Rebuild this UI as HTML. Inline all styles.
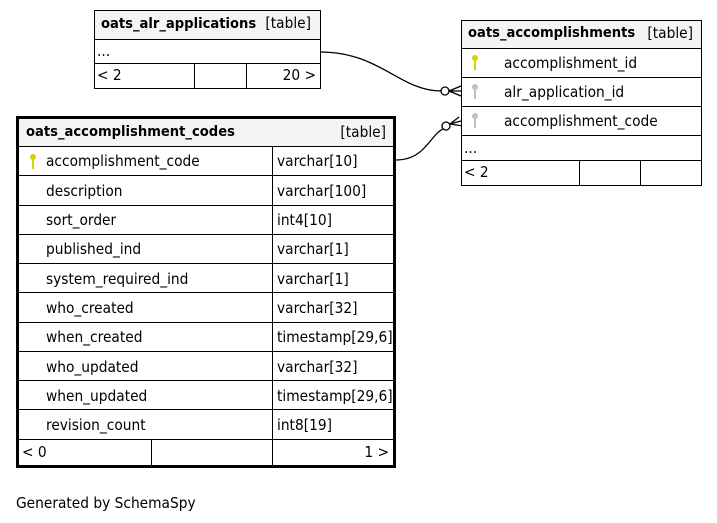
<!DOCTYPE html>
<html><head><meta charset="utf-8"><style>
html,body{margin:0;padding:0;background:#fff;width:717px;height:523px;overflow:hidden}
svg text{font-family:"DejaVu Sans Condensed","DejaVu Sans","Liberation Sans",sans-serif;font-size:15.3px;fill:#000}
.b{font-weight:bold;font-size:14.6px}
</style></head><body>
<svg width="717" height="523" viewBox="0 0 717 523" xmlns="http://www.w3.org/2000/svg">
<defs>
<g id="key"><circle cx="0" cy="-3" r="3"/><rect x="-1" y="-1" width="2" height="10"/></g>
</defs>
<path d="M320,52 C380,52 400,91 441,91" fill="none" stroke="#000" stroke-width="1.3"/>
<circle cx="445" cy="91" r="4" fill="#fff" stroke="#000" stroke-width="1.3"/>
<path d="M449,91 L461,86 M449,91 L461,91 M449,91 L461,96" stroke="#000" stroke-width="1.3" fill="none"/>
<path d="M396,160 C425,160 430,135 443,129" fill="none" stroke="#000" stroke-width="1.3"/>
<circle cx="446" cy="126" r="4" fill="#fff" stroke="#000" stroke-width="1.3"/>
<path d="M450,124 L459,117 M450,124 L461,121 M450,124 L463,126" stroke="#000" stroke-width="1.3" fill="none"/>

<rect x="94.5" y="10.5" width="226" height="78" fill="#fff" stroke="#000"/>
<rect x="95" y="11" width="225" height="28" fill="#f4f4f4"/>
<line x1="94" y1="39.5" x2="320" y2="39.5" stroke="#000"/>
<line x1="94" y1="63.5" x2="320" y2="63.5" stroke="#000"/>
<line x1="194.5" y1="63" x2="194.5" y2="88" stroke="#000"/>
<line x1="246.5" y1="63" x2="246.5" y2="88" stroke="#000"/>
<text x="101" y="28" class="b">oats_alr_applications</text>
<text x="311" y="28" text-anchor="end">[table]</text>
<text x="97" y="56">...</text>
<text x="97" y="80">&lt; 2</text>
<text x="316" y="80" text-anchor="end">20 &gt;</text>

<rect x="461.5" y="20.5" width="240" height="165" fill="#fff" stroke="#000"/>
<rect x="462" y="21" width="239" height="27" fill="#f4f4f4"/>
<line x1="461" y1="48.5" x2="701" y2="48.5" stroke="#000"/>
<line x1="461" y1="77.5" x2="701" y2="77.5" stroke="#000"/>
<line x1="461" y1="106.5" x2="701" y2="106.5" stroke="#000"/>
<line x1="461" y1="135.5" x2="701" y2="135.5" stroke="#000"/>
<line x1="461" y1="160.5" x2="701" y2="160.5" stroke="#000"/>
<line x1="579.5" y1="160" x2="579.5" y2="185" stroke="#000"/>
<line x1="640.5" y1="160" x2="640.5" y2="185" stroke="#000"/>
<text x="468" y="37" class="b">oats_accomplishments</text>
<text x="693" y="38" text-anchor="end">[table]</text>
<use href="#key" x="475" y="61" fill="#d4d400"/>
<text x="504" y="68">accomplishment_id</text>
<use href="#key" x="475" y="90" fill="#c0c0c0"/>
<text x="504" y="97">alr_application_id</text>
<use href="#key" x="475" y="119" fill="#c0c0c0"/>
<text x="504" y="126">accomplishment_code</text>
<text x="464" y="153">...</text>
<text x="464" y="177">&lt; 2</text>

<rect x="17.5" y="117.5" width="377" height="349" fill="#fff" stroke="#000" stroke-width="3"/>
<rect x="19" y="119" width="374" height="27" fill="#f4f4f4"/>
<g stroke="#000">
<line x1="19" y1="146.5" x2="393" y2="146.5"/>
<line x1="19" y1="175.5" x2="393" y2="175.5"/>
<line x1="19" y1="205.5" x2="393" y2="205.5"/>
<line x1="19" y1="234.5" x2="393" y2="234.5"/>
<line x1="19" y1="263.5" x2="393" y2="263.5"/>
<line x1="19" y1="292.5" x2="393" y2="292.5"/>
<line x1="19" y1="322.5" x2="393" y2="322.5"/>
<line x1="19" y1="351.5" x2="393" y2="351.5"/>
<line x1="19" y1="380.5" x2="393" y2="380.5"/>
<line x1="19" y1="409.5" x2="393" y2="409.5"/>
<line x1="19" y1="439.5" x2="393" y2="439.5"/>
<line x1="272.5" y1="146" x2="272.5" y2="465"/>
<line x1="151.5" y1="439" x2="151.5" y2="465"/>
</g>
<text x="26" y="136" class="b">oats_accomplishment_codes</text>
<text x="386" y="137" text-anchor="end">[table]</text>
<use href="#key" x="33" y="160" fill="#d4d400"/>
<text x="46" y="166">accomplishment_code</text><text x="277" y="166">varchar[10]</text>
<text x="46" y="196">description</text><text x="277" y="196">varchar[100]</text>
<text x="46" y="225">sort_order</text><text x="277" y="225">int4[10]</text>
<text x="46" y="254">published_ind</text><text x="277" y="254">varchar[1]</text>
<text x="46" y="284">system_required_ind</text><text x="277" y="284">varchar[1]</text>
<text x="46" y="313">who_created</text><text x="277" y="313">varchar[32]</text>
<text x="46" y="342">when_created</text><text x="277" y="342">timestamp[29,6]</text>
<text x="46" y="372">who_updated</text><text x="277" y="372">varchar[32]</text>
<text x="46" y="401">when_updated</text><text x="277" y="401">timestamp[29,6]</text>
<text x="46" y="430">revision_count</text><text x="277" y="430">int8[19]</text>
<text x="22" y="457">&lt; 0</text>
<text x="389" y="457" text-anchor="end">1 &gt;</text>

<text x="16" y="508">Generated by SchemaSpy</text>
</svg>
</body></html>
